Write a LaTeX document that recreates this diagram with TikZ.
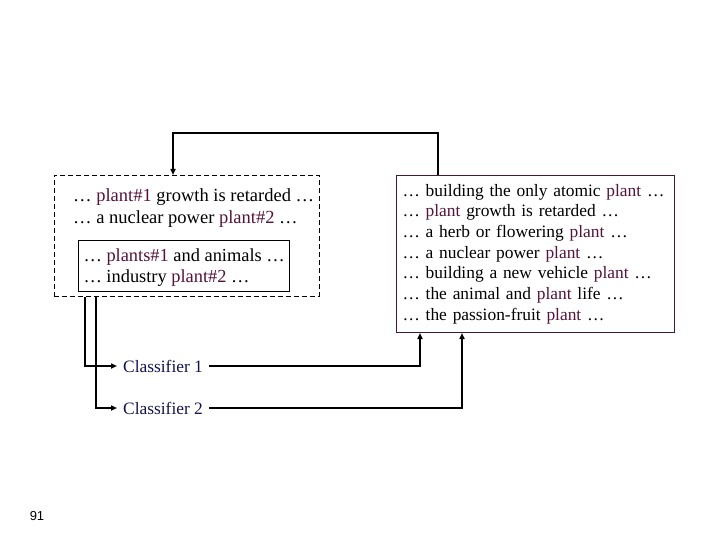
\documentclass[tikz,border=0pt]{standalone}
\usepackage{fontspec}
\setmainfont{Liberation Serif}
\newfontfamily\pagefont{Liberation Sans}
\usetikzlibrary{arrows.meta, positioning}
\definecolor{plantred}{RGB}{84,18,60}
\definecolor{clsblue}{RGB}{18,18,82}
\definecolor{poolframe}{RGB}{70,24,56}
\newcommand{\pl}[1]{\textcolor{plantred}{#1}}

\begin{document}
\begin{tikzpicture}[x=1pt, y=-1pt,
    txt/.style={inner sep=0pt, align=left, anchor=north west, font=\fontsize{18.5}{21.5}\selectfont},
    dashbox/.style={draw, dash pattern=on 5pt off 3pt, line width=0.9pt, anchor=north west, minimum width=265pt, minimum height=121pt},
    seedbox/.style={draw, line width=1pt, anchor=north west, inner xsep=5pt, minimum height=51pt, align=left, font=\fontsize{18.4}{20.5}\selectfont},
    poolbox/.style={draw=poolframe, line width=1pt, anchor=north west, inner xsep=6pt, text width=266pt, minimum height=157pt, align=left, font=\fontsize{17.4}{20.7}\selectfont},
    cls/.style={anchor=west, inner xsep=6pt, inner ysep=2pt, text=clsblue, font=\fontsize{17.4}{20}\selectfont},
    link/.style={-{Triangle[length=6pt,width=5pt]}, line width=1.5pt}
]
\useasboundingbox (0,0) rectangle (720,540);

% labelled examples
\node[dashbox] (tagged) at (54,175) {};
\node[txt] (seeds) at (73,188.5) {… \pl{plant\#1} growth is retarded …\\… a nuclear power \pl{plant\#2} …};
\node[seedbox] (train) at (78,240) {\rule{0pt}{16pt}… \pl{plants\#1} and animals …\\… industry \pl{plant\#2} …};

% unlabelled examples
\node[poolbox] (pool) at (396,175) {… building the only atomic \pl{plant} …\\
… \pl{plant} growth is retarded …\\
… a herb or flowering \pl{plant} …\\
… a nuclear power \pl{plant} …\\
… building a new vehicle \pl{plant} …\\
… the animal and \pl{plant} life …\\
… the passion-fruit \pl{plant} …};

% classifiers
\node[cls] (clsA) at (117,366) {Classifier 1};
\node[cls] (clsB) at (117,408) {Classifier 2};

\node[inner sep=0pt, font=\pagefont\fontsize{13}{15}\selectfont] (page) at (37,516) {91};

\draw[link] ([xshift=31pt]tagged.south west) |- (clsA.west);
\draw[link] ([xshift=42pt]tagged.south west) |- (clsB.west);
\draw[link] (clsA.east) -| ([xshift=24pt]pool.south west);
\draw[link] (clsB.east) -| ([xshift=66pt]pool.south west);
\draw[link] ([xshift=42pt]pool.north west) -- ++(0,-42) -| ([xshift=119pt]tagged.north west);
\end{tikzpicture}
\end{document}
